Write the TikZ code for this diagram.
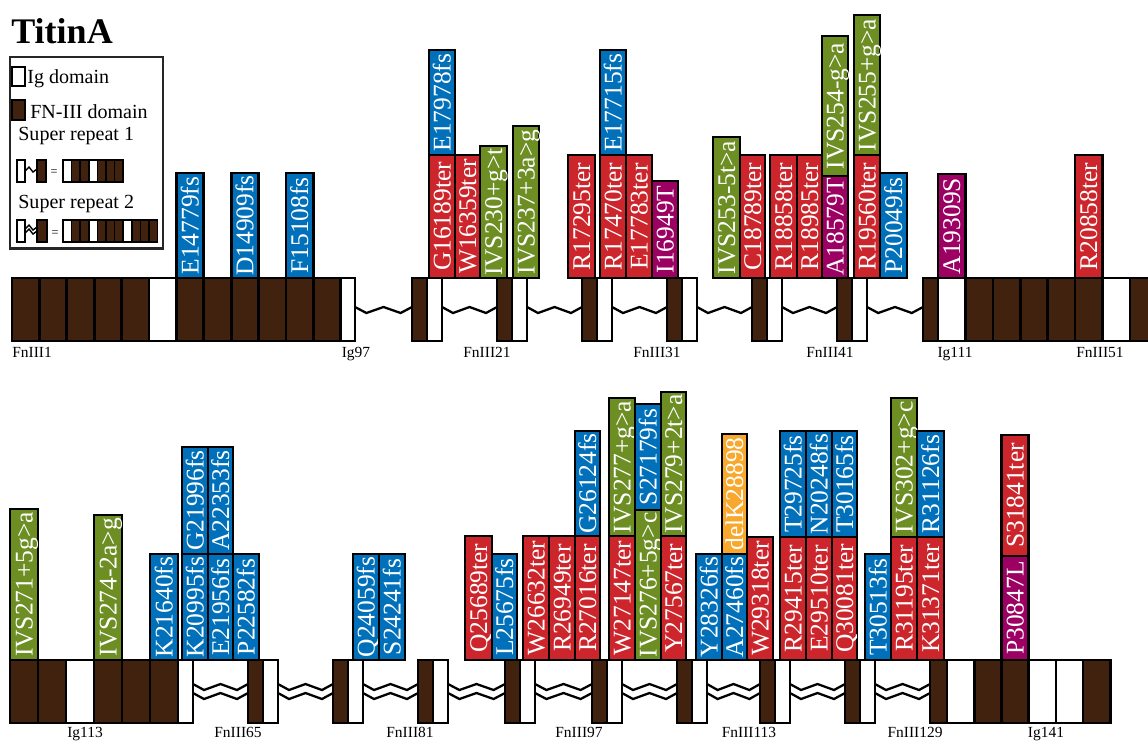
\documentclass[tikz,border=0pt]{standalone}
\usepackage{fontspec}
\setmainfont{Liberation Serif}
\definecolor{ttbrown}{RGB}{64,34,15}
\definecolor{ttred}{RGB}{205,37,44}
\definecolor{ttblue}{RGB}{0,112,186}
\definecolor{ttgreen}{RGB}{108,142,35}
\definecolor{ttmag}{RGB}{155,0,98}
\definecolor{ttorange}{RGB}{248,168,44}
\begin{document}
\begin{tikzpicture}[x=0.02cm,y=-0.02cm,
  fn/.style={fill=ttbrown,draw=black,line width=1.5pt},
  ig/.style={fill=white,draw=black,line width=1.5pt},
  mutbox/.style={draw=black,line width=1.6pt},
  mtxt/.style={rotate=90,anchor=base,inner sep=0pt,text=white,font=\fontsize{14.5}{14.5}\selectfont},
  dlab/.style={anchor=base,inner sep=0pt,font=\fontsize{8.8}{9}\selectfont},
  leg/.style={anchor=base west,inner sep=0pt,font=\fontsize{11.4}{12}\selectfont},
  zz/.style={line width=1.3pt,line join=miter}]
  \useasboundingbox (0,0) rectangle (1148,741);
  % Title
  \node[anchor=base west,inner sep=0pt,font=\bfseries\fontsize{20.5}{21}\selectfont] (title) at (11,43) {TitinA};
  % Legend
  \draw[line width=1.7pt,draw=black!85] (10,57) rectangle (163,248);
  \draw[ig,line width=0.8pt] (12,67) rectangle (25,86);
  \node[leg] (legig) at (27,83) {Ig domain};
  \draw[fn,line width=0.8pt] (12,100) rectangle (25,120);
  \node[leg] (legfn) at (30,118) {FN-III domain};
  \node[leg] (legsra) at (18,140) {Super repeat 1};
  \draw[ig,line width=0.8pt] (17,160) rectangle (25,182);
  \draw[line width=0.8pt] (25,171) -- (29,167) -- (33,172) -- (37,169);
  \draw[fn,line width=0.8pt] (37,160) rectangle (46,182);
  \node[inner sep=0pt,font=\fontsize{7}{7}\selectfont] (eqa) at (54,173) {=};
  \foreach \s [count=\i from 0] in {ig,fn,fn,ig,fn,fn,fn}
    \draw[\s,line width=0.8pt] ({63+8.6*\i},160) rectangle ++(8.6,22);
  \node[leg] (legsrb) at (18,208) {Super repeat 2};
  \draw[ig,line width=0.8pt] (17,220) rectangle (25,242);
  \draw[line width=0.8pt] (25,229) -- (29,225) -- (33,230) -- (37,227);
  \draw[line width=0.8pt] (25,233) -- (29,229) -- (33,234) -- (37,231);
  \draw[fn,line width=0.8pt] (37,220) rectangle (47,242);
  \node[inner sep=0pt,font=\fontsize{7}{7}\selectfont] (eqb) at (55,234) {=};
  \foreach \s [count=\i from 0] in {ig,fn,fn,ig,fn,fn,fn,ig,fn,fn,fn}
    \draw[\s,line width=0.8pt] ({63+8.6*\i},220) rectangle ++(8.6,22);

  % Top row: linkers
  \foreach \a/\b in {355/412,442/497,527/582,612/667,697/752,782/837,867/923}
    \draw[zz] (\a,307) -- ({\a+0.2*(\b-\a)},313) -- ({\a+0.5*(\b-\a)},307)
      -- ({\a+0.8*(\b-\a)},313) -- (\b,307);
  % Top row: domains
  \foreach \s [count=\i from 0] in {fn,fn,fn,fn,fn,ig,fn,fn,fn,fn,fn,fn}
    \draw[\s] ({12+27.4*\i},278) rectangle ++(27.4,63);
  \draw[ig] (340.8,278) rectangle (355,341);
  \foreach \u in {412,497,582,667,752,837} {
    \draw[fn] (\u,278) rectangle ++(15,63);
    \draw[ig] (\u+15,278) rectangle ++(15,63);
  }
  \draw[fn] (923,278) rectangle (938,341);
  \foreach \s [count=\i from 0] in {ig,fn,fn,fn,fn,fn,ig,fn}
    \draw[\s] ({938+27.4*\i},278) rectangle ++(27.4,63);
  % Top row: mutations
  \foreach \xa/\xb/\yt/\yb/\col/\txt [count=\i] in {
    176.4/203.8/173/278/ttblue/E14779fs, 231.2/258.6/173/278/ttblue/D14909fs,
    286/313.4/173/278/ttblue/F15108fs, 429/455/50/155/ttblue/E17978fs,
    429/455/155/278/ttred/G16189ter, 455/480/155/278/ttred/W16359ter,
    480/507/146/278/ttgreen/IVS230+g>t, 513/539/126/278/ttgreen/IVS237+3a>g,
    568/595/155/278/ttred/R17295ter, 600/626/50/155/ttblue/E17715fs,
    600/626/155/278/ttred/R17470ter, 626/652/155/278/ttred/E17783ter,
    652/678/181/278/ttmag/I16949T, 713/740/137/278/ttgreen/IVS253-5t>a,
    740/765/155/278/ttred/C18789ter, 770/797/155/278/ttred/R18858ter,
    797/822/155/278/ttred/R18985ter, 822/848/176/278/ttmag/A18579T,
    822/848/36/176/ttgreen/IVS254-g>a, 854/880/15/155/ttgreen/IVS255+g>a,
    854/880/155/278/ttred/R19560ter, 880/907/173/278/ttblue/P20049fs,
    938/965.4/174/278/ttmag/A19309S, 1075/1102.4/155/278/ttred/R20858ter} {
    \draw[mutbox,fill=\col] (\xa,\yt) rectangle (\xb,\yb);
    \node[mtxt] (top\i) at ({(\xa+\xb)/2+8.5},{(\yt+\yb)/2}) {\txt};
  }
  % Top row: labels
  \node[dlab,anchor=base west] (fniii1) at (12,357.5) {FnIII1};
  \foreach \x/\txt in {356/Ig97,487/FnIII21,657/FnIII31,830/FnIII41,955/Ig111,1100/FnIII51}
    \node[dlab] (lab\txt) at (\x,357.5) {\txt};

  % Bottom row: linkers
  \foreach \a/\b in {193/248,278/333,363/418,448/505,535/592,622/677,707/760,790/845,875/930} {
    \draw[zz] (\a,684) -- ({\a+0.2*(\b-\a)},690) -- ({\a+0.5*(\b-\a)},684)
      -- ({\a+0.8*(\b-\a)},690) -- (\b,684);
    \draw[zz] (\a,693) -- ({\a+0.2*(\b-\a)},699) -- ({\a+0.5*(\b-\a)},693)
      -- ({\a+0.8*(\b-\a)},699) -- (\b,693);
  }
  % Bottom row: domains
  \foreach \s [count=\i from 0] in {fn,fn,ig,fn,fn,fn}
    \draw[\s] ({10+28*\i},660) rectangle ++(28,63);
  \draw[ig] (178,660) rectangle (193,723);
  \foreach \u in {248,333,418,505,592,677,760,845} {
    \draw[fn] (\u,660) rectangle ++(15,63);
    \draw[ig] (\u+15,660) rectangle ++(15,63);
  }
  \draw[fn] (930,660) rectangle (947,723);
  \foreach \s [count=\i from 0] in {ig,fn,fn,ig,ig,fn}
    \draw[\s] ({947+27.2*\i},660) rectangle ++(27.2,63);
  % Bottom row: mutations
  \foreach \xa/\xb/\yt/\yb/\col/\txt [count=\i] in {
    10/38/509/660/ttgreen/IVS271+5g>a, 94/122/515/660/ttgreen/IVS274-2a>g,
    150/178/554/660/ttblue/K21640fs, 182/208/554/660/ttblue/K20995fs,
    182/208/447/554/ttblue/G21996fs, 208/233/554/660/ttblue/E21956fs,
    208/233/447/554/ttblue/A22353fs, 233/259/554/660/ttblue/P22582fs,
    353/379/554/660/ttblue/Q24059fs, 379/405/554/660/ttblue/S24241fs,
    465/492/536/660/ttred/Q25689ter, 492/517/554/660/ttblue/L25675fs,
    523/549/536/660/ttred/W26632ter, 549/575/536/660/ttred/R26949ter,
    575/600/536/660/ttred/R27016ter, 575/600/431/536/ttblue/G26124fs,
    609/635/536/660/ttred/W27147ter, 609/635/398/536/ttgreen/IVS277+g>a,
    635/661/510/660/ttgreen/IVS276+5g>c, 635/661/404/510/ttblue/S27179fs,
    661/686/536/660/ttred/Y27567ter, 661/686/392/536/ttgreen/IVS279+2t>a,
    696/722/554/660/ttblue/Y28326fs, 722/747/554/660/ttblue/A27460fs,
    722/747/434/554/ttorange/delK28898, 747/773/537/660/ttred/W29318ter,
    780/806/537/660/ttred/R29415ter, 780/806/431/537/ttblue/T29725fs,
    806/832/537/660/ttred/E29510ter, 806/832/431/537/ttblue/N20248fs,
    832/857/537/660/ttred/Q30081ter, 832/857/431/537/ttblue/T30165fs,
    865/891/554/660/ttblue/T30513fs, 891/917/537/660/ttred/R31195ter,
    891/917/398/537/ttgreen/IVS302+g>c, 917/944/537/660/ttred/K31371ter,
    917/944/431/537/ttblue/R31126fs, 1001.4/1028.6/556/660/ttmag/P30847L,
    1001.4/1028.6/435/556/ttred/S31841ter} {
    \draw[mutbox,fill=\col] (\xa,\yt) rectangle (\xb,\yb);
    \node[mtxt] (bot\i) at ({(\xa+\xb)/2+8.5},{(\yt+\yb)/2}) {\txt};
  }
  % Bottom row: labels
  \foreach \x/\txt in {85/Ig113,238/FnIII65,410/FnIII81,579/FnIII97,749/FnIII113,915/FnIII129,1046/Ig141}
    \node[dlab] (lab\txt) at (\x,737) {\txt};
\end{tikzpicture}
\end{document}
